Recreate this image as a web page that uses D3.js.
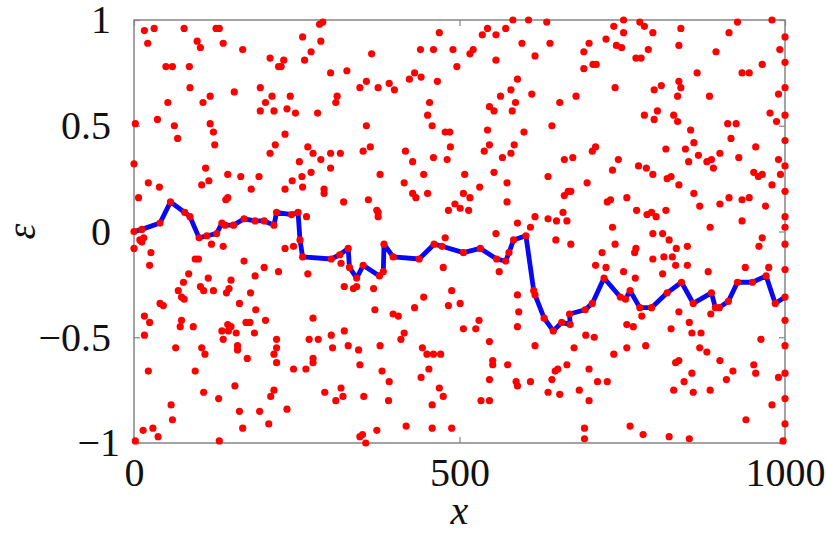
<!DOCTYPE html>
<html lang="en">
<head>
<meta charset="utf-8">
<title>epsilon scatter</title>
<script src="https://cdnjs.cloudflare.com/ajax/libs/d3/7.8.5/d3.min.js"></script>
<style>
  body { margin: 0; background: #fff; }
  svg { display: block; }
</style>
</head>
<body>
<div id="chart"></div>
<script>
// red sample points (x, epsilon)
var sampleX = [16,31,77,126,131,21,97,102,137,167,259,287,285,290,272,262,209,230,222,226,49,59,85,302,327,86,117,106,52,154,194,212,202,240,312,310,194,215,235,248,282,2,36,62,117,122,67,124,232,217,209,267,275,287,302,317,0,110,254,272,302,144,164,192,115,104,22,39,180,232,243,258,259,292,292,322,7,144,141,265,
  365,347,357,375,392,400,423,431,441,466,440,460,469,490,496,516,521,535,543,556,571,582,606,634,596,639,616,556,589,579,563,611,586,581,546,553,654,454,451,458,357,478,485,543,599,642,352,363,417,428,460,481,486,538,546,584,579,566,661,378,445,508,553,636,415,428,433,451,506,516,531,573,573,661,667,360,373,375,375,483,493,501,514,589,609,616,636,649,659,665,
  752,777,784,737,752,797,840,927,914,980,1000,725,699,691,741,749,790,771,779,837,894,992,1000,965,691,705,710,865,934,945,739,679,799,810,837,840,835,884,990,1000,784,804,799,829,835,855,912,925,977,987,1000,917,860,817,847,704,709,674,744,735,775,787,797,819,825,837,852,867,880,887,890,900,929,955,990,1000,1000,952,959,965,993,980,1000,696,671,727,732,757,772,788,795,802,817,860,869,900,914,934,945,970,1000,735,885,934,1000,
  9,15,12,0,26,24,119,137,94,99,169,232,245,318,200,222,267,186,84,114,76,149,146,102,107,122,142,68,73,77,179,323,40,45,162,187,16,24,73,71,91,144,149,135,145,157,137,172,178,202,275,185,16,64,104,109,159,159,174,219,219,215,219,269,283,303,305,323,329,275,275,264,245,22,94,155,107,130,215,210,293,318,321,310,57,59,162,193,235,167,207,14,29,37,2,131,
  337,342,368,478,556,648,475,561,370,398,406,431,445,488,483,501,589,591,589,530,525,506,415,410,345,378,443,450,460,471,546,616,347,381,453,441,392,551,551,574,546,587,589,609,642,647,651,665,636,654,469,475,353,391,533,546,458,418,458,488,373,347,351,356,
  671,739,797,812,822,833,850,771,769,719,797,814,827,832,850,709,725,752,770,812,882,939,975,965,960,1000,1000,1000,1000,1000,1000,1000,997,780,837,886,757,767,825,853,857,871,694,707,676,757,786,737,869,880,963,832,837,900,699,857,920,952,955,990,910,712,727,845,684,829,859,885,699,980,940,692,762,692,782,822,853];
var sampleY = [0.95,0.96,0.96,0.96,0.96,0.89,0.90,0.87,0.89,0.86,0.92,0.90,0.98,0.99,0.85,0.81,0.82,0.81,0.78,0.78,0.78,0.78,0.78,0.75,0.76,0.68,0.64,0.61,0.61,0.66,0.68,0.64,0.61,0.64,0.64,0.61,0.57,0.57,0.58,0.56,0.56,0.51,0.53,0.50,0.51,0.47,0.44,0.41,0.46,0.41,0.37,0.40,0.37,0.34,0.37,0.37,0.32,0.30,0.33,0.28,0.30,0.27,0.26,0.26,0.24,0.22,0.23,0.21,0.20,0.20,0.24,0.26,0.21,0.20,0.18,0.14,0.16,0.16,0.15,0.07,
  0.84,0.68,0.71,0.68,0.70,0.67,0.72,0.75,0.73,0.71,0.86,0.86,0.94,0.86,0.78,0.84,0.86,0.93,0.96,0.93,0.96,1.00,1.00,0.99,0.89,0.89,0.83,0.81,0.72,0.67,0.64,0.65,0.61,0.57,0.59,0.57,0.61,0.61,0.55,0.50,0.50,0.47,0.47,0.48,0.47,0.50,0.38,0.40,0.38,0.33,0.35,0.34,0.40,0.38,0.41,0.41,0.37,0.35,0.34,0.27,0.27,0.27,0.28,0.26,0.23,0.18,0.16,0.18,0.18,0.16,0.21,0.23,0.14,0.17,0.19,0.15,0.10,0.09,0.07,0.10,0.13,0.11,0.10,0.04,0.02,0.07,0.06,0.05,0.09,0.05,
  1.00,0.99,0.97,0.97,0.94,0.94,0.96,0.99,0.94,1.00,0.92,0.91,0.89,0.85,0.88,0.87,0.86,0.82,0.82,0.88,0.85,0.86,0.80,0.79,0.77,0.79,0.79,0.75,0.75,0.75,0.68,0.64,0.67,0.69,0.71,0.68,0.64,0.64,0.65,0.68,0.55,0.57,0.53,0.55,0.52,0.48,0.51,0.51,0.56,0.52,0.55,0.44,0.42,0.39,0.39,0.38,0.40,0.35,0.34,0.29,0.31,0.30,0.27,0.25,0.26,0.22,0.33,0.36,0.33,0.34,0.30,0.37,0.35,0.40,0.34,0.43,0.31,0.28,0.26,0.27,0.27,0.22,0.19,0.23,0.19,0.14,0.15,0.16,0.10,0.08,0.09,0.07,0.10,0.18,0.12,0.13,0.16,0.15,0.16,0.12,0.07,0.02,0.02,0.05,0.02,
  -0.04,-0.03,-0.05,-0.08,-0.10,-0.16,-0.06,-0.07,-0.13,-0.13,-0.14,-0.08,-0.07,-0.15,-0.17,-0.19,-0.20,-0.21,-0.20,-0.22,-0.24,-0.23,-0.27,-0.26,-0.28,-0.28,-0.29,-0.28,-0.31,-0.32,-0.29,-0.26,-0.34,-0.35,-0.34,-0.37,-0.40,-0.43,-0.42,-0.45,-0.45,-0.44,-0.45,-0.47,-0.47,-0.48,-0.51,-0.43,-0.43,-0.42,-0.41,-0.48,-0.49,-0.55,-0.55,-0.58,-0.54,-0.56,-0.60,-0.51,-0.55,-0.58,-0.62,-0.51,-0.51,-0.49,-0.55,-0.47,-0.54,-0.60,-0.62,-0.65,-0.65,-0.66,-0.66,-0.73,-0.76,-0.79,-0.75,-0.78,-0.76,-0.74,-0.78,-0.80,-0.82,-0.89,-0.85,-0.85,-0.84,-0.93,-0.91,-0.94,-0.93,-0.97,-0.99,-0.99,
  -0.27,-0.26,-0.27,-0.03,-0.01,-0.04,-0.17,-0.19,-0.37,-0.39,-0.40,-0.36,-0.31,-0.28,-0.35,-0.34,-0.30,-0.38,-0.45,-0.42,-0.46,-0.46,-0.48,-0.51,-0.56,-0.54,-0.55,-0.58,-0.58,-0.58,-0.52,-0.54,-0.63,-0.66,-0.65,-0.69,-0.71,-0.61,-0.63,-0.63,-0.70,-0.71,-0.73,-0.71,-0.70,-0.66,-0.65,-0.63,-0.76,-0.77,-0.74,-0.78,-0.78,-0.80,-0.80,-0.80,-0.82,-0.92,-0.93,-0.93,-0.94,-0.97,-0.96,-1.00,
  -0.06,-0.06,-0.01,-0.01,-0.04,-0.08,-0.07,-0.08,-0.10,-0.10,-0.13,-0.12,-0.12,-0.16,-0.16,-0.16,-0.17,-0.19,-0.22,-0.20,-0.19,-0.17,-0.17,-0.03,-0.07,-0.06,-0.18,-0.42,-0.54,-0.67,-0.79,-0.91,-0.99,-0.40,-0.38,-0.39,-0.44,-0.45,-0.46,-0.43,-0.48,-0.48,-0.49,-0.50,-0.55,-0.55,-0.54,-0.58,-0.55,-0.57,-0.51,-0.62,-0.61,-0.61,-0.65,-0.67,-0.66,-0.63,-0.67,-0.69,-0.70,-0.71,-0.71,-0.71,-0.75,-0.75,-0.76,-0.75,-0.80,-0.82,-0.89,-0.93,-0.92,-0.98,-0.96,-0.97,-0.98];

// blue trajectory
var pathX = [0,12,40,56,78,86,100,112,127,135,140,153,169,186,200,215,219,242,252,255,259,303,316,329,331,342,352,377,383,384,398,438,461,473,506,532,557,571,576,583,602,614,616,630,644,657,670,669,693,704,722,747,755,762,777,795,819,841,859,887,893,899,913,927,950,971,985,1000];
var pathY = [0.00,0.01,0.04,0.14,0.09,0.07,-0.03,-0.02,-0.01,0.04,0.03,0.03,0.06,0.05,0.05,0.03,0.09,0.08,0.09,-0.04,-0.12,-0.13,-0.11,-0.08,-0.17,-0.22,-0.16,-0.21,-0.19,-0.06,-0.12,-0.13,-0.06,-0.07,-0.10,-0.08,-0.13,-0.14,-0.10,-0.04,-0.02,-0.28,-0.30,-0.41,-0.47,-0.43,-0.44,-0.39,-0.37,-0.34,-0.22,-0.31,-0.32,-0.28,-0.36,-0.36,-0.29,-0.24,-0.34,-0.29,-0.36,-0.36,-0.33,-0.24,-0.24,-0.21,-0.34,-0.31];

var xTicks = [0, 500, 1000];
var yTicks = [-1, -0.5, 0, 0.5, 1];

var width = 826, height = 535;
var plotL = 134, plotR = 785, plotT = 20, plotB = 443;
var fontFam = "'Liberation Serif', 'Times New Roman', serif";
var boxColor = "#858585";

var svg = d3.select("#chart").append("svg")
    .attr("width", width)
    .attr("height", height);

var x = d3.scaleLinear().domain([0, 1000]).range([plotL, plotR]);
var y = d3.scaleLinear().domain([-1, 1]).range([plotB, plotT]);
var fmt = d3.format("");

// axes: ticks point inward, labels outside
var gx = svg.append("g")
    .attr("transform", "translate(0," + plotB + ")")
    .call(d3.axisBottom(x).tickValues(xTicks).tickFormat(fmt).tickSizeInner(-6).tickSizeOuter(0).tickPadding(15));
var gy = svg.append("g")
    .attr("transform", "translate(" + plotL + ",0)")
    .call(d3.axisLeft(y).tickValues(yTicks).tickFormat(fmt).tickSizeInner(-6).tickSizeOuter(0).tickPadding(23));
var gx2 = svg.append("g")
    .attr("transform", "translate(0," + plotT + ")")
    .call(d3.axisTop(x).tickValues(xTicks).tickFormat("").tickSizeInner(-6).tickSizeOuter(0));
var gy2 = svg.append("g")
    .attr("transform", "translate(" + plotR + ",0)")
    .call(d3.axisRight(y).tickValues(yTicks).tickFormat("").tickSizeInner(-6).tickSizeOuter(0));

[gx, gy, gx2, gy2].forEach(function(g) {
    g.select(".domain").remove();
    g.selectAll("line").attr("stroke", boxColor).attr("stroke-width", 1.2);
    g.selectAll("text")
        .attr("font-family", fontFam)
        .attr("font-size", 40)
        .attr("fill", "#111");
});
// the -1 label sits a bit further right in the original
gy.selectAll("text").filter(function(d) { return d === -1; }).attr("dx", 9);

svg.append("rect")
    .attr("x", plotL)
    .attr("y", plotT)
    .attr("width", plotR - plotL)
    .attr("height", plotB - plotT)
    .attr("fill", "none")
    .attr("stroke", boxColor)
    .attr("stroke-width", 1.5);

// blue line
var line = d3.line()
    .x(function(d, i) { return x(pathX[i]); })
    .y(function(d, i) { return y(pathY[i]); });
svg.append("path")
    .datum(pathX)
    .attr("d", line)
    .attr("fill", "none")
    .attr("stroke", "#0808f2")
    .attr("stroke-width", 4.8)
    .attr("stroke-linejoin", "round");

// red points (the line's own points are dots too)
var allX = sampleX.concat(pathX);
var allY = sampleY.concat(pathY);
svg.append("g").selectAll("circle")
    .data(allX)
    .enter().append("circle")
    .attr("cx", function(d) { return x(d); })
    .attr("cy", function(d, i) { return y(allY[i]); })
    .attr("r", 3.6)
    .attr("fill", "#f00");

// axis titles
svg.append("text")
    .text("x")
    .attr("x", x(500))
    .attr("y", 524)
    .attr("text-anchor", "middle")
    .attr("font-family", fontFam)
    .attr("font-style", "italic")
    .attr("font-size", 40)
    .attr("fill", "#111");
svg.append("text")
    .text("ε")
    .attr("transform", "translate(35," + y(0) + ") rotate(-90)")
    .attr("text-anchor", "middle")
    .attr("font-family", fontFam)
    .attr("font-style", "italic")
    .attr("font-size", 40)
    .attr("fill", "#111");
</script>
</body>
</html>
